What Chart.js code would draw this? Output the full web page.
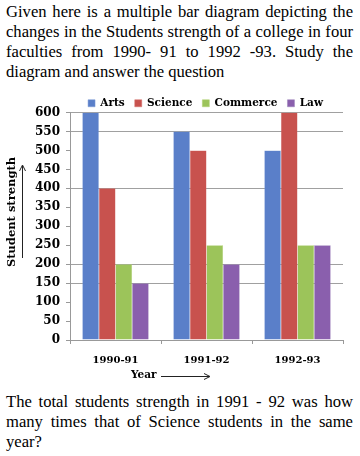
<!DOCTYPE html>
<html>
<head>
<meta charset="utf-8">
<script src="https://cdn.jsdelivr.net/npm/chart.js@4.4.0/dist/chart.umd.min.js"></script>
<style>
  html, body { margin:0; padding:0; background:#fff; width:360px; height:456px; overflow:hidden; }
  .txt { position:absolute; left:6px; width:347px; font-family:"Liberation Serif", serif; font-size:16.6px; line-height:20px; color:#000; }
  .txt div { white-space:nowrap; }
  .txt .j { text-align:justify; text-align-last:justify; }
  #top { top:2px; }
  #bottom { top:392px; }
  #wrap { position:absolute; left:0; top:88px; width:360px; height:302px; }
</style>
</head>
<body>
<div id="top" class="txt">
  <div class="j">Given here is a multiple bar diagram depicting the</div>
  <div class="j">changes in the Students strength of a college in four</div>
  <div class="j">faculties from 1990- 91 to 1992 -93. Study the</div>
  <div>diagram and answer the question</div>
</div>
<div id="wrap"><canvas id="c" width="360" height="302"></canvas></div>
<div id="bottom" class="txt">
  <div class="j">The total students strength in 1991 - 92 was how</div>
  <div class="j">many times that of Science students in the same</div>
  <div>year?</div>
</div>
<script>
const categories = ["1990-91", "1991-92", "1992-93"];
const arts = [600, 550, 500];
const science = [400, 500, 600];
const commerce = [200, 250, 250];
const law = [150, 200, 250];
const yTicks = [0, 50, 100, 150, 200, 250, 300, 350, 400, 450, 500, 550, 600];
const gridValues = [150, 200, 400, 550, 600];

const serif = '"DejaVu Serif", serif';

const legendShift = {
  id: 'legendShift',
  beforeLayout(chart) {
    const lg = chart.legend;
    if (lg && !lg._patched) {
      const f = lg.fit;
      lg.fit = function () { f.call(this); this.height -= 6; };
      lg._patched = true;
    }
  },
  afterLayout(chart) {
    const lg = chart.legend;
    if (lg) { lg.left += 34; lg.right += 34; }
  }
};

const arrowsPlugin = {
  id: 'arrows',
  afterDraw(chart) {
    const ctx = chart.ctx;
    ctx.save();
    ctx.fillStyle = '#000';
    ctx.font = 'bold 11.5px ' + serif;
    ctx.textAlign = 'center';
    ctx.textBaseline = 'middle';
    ctx.translate(12, 124);
    ctx.rotate(-Math.PI / 2);
    ctx.fillText('Student strength', 0, 0);
    ctx.restore();
    ctx.save();
    ctx.strokeStyle = '#222';
    ctx.fillStyle = '#000';
    ctx.lineWidth = 1;
    ctx.beginPath();
    ctx.moveTo(22.5, 170);
    ctx.lineTo(22.5, 78);
    ctx.stroke();
    ctx.beginPath();
    ctx.moveTo(22.5, 77);
    ctx.lineTo(19.5, 83);
    ctx.moveTo(22.5, 77);
    ctx.lineTo(25.5, 83);
    ctx.stroke();
    ctx.font = 'bold 10.5px ' + serif;
    ctx.textAlign = 'left';
    ctx.textBaseline = 'middle';
    ctx.fillText('Year', 131, 287);
    ctx.beginPath();
    ctx.moveTo(161, 288.5);
    ctx.lineTo(209, 288.5);
    ctx.stroke();
    ctx.beginPath();
    ctx.moveTo(210, 288.5);
    ctx.lineTo(204, 285.5);
    ctx.moveTo(210, 288.5);
    ctx.lineTo(204, 291.5);
    ctx.stroke();
    ctx.restore();
  }
};

const mk = (label, data, color, border) => ({
  label, data, backgroundColor: color, borderColor: border, borderWidth: 0.5,
  categoryPercentage: 0.73, barPercentage: 1.0
});

new Chart(document.getElementById('c'), {
  type: 'bar',
  data: {
    labels: categories,
    datasets: [
      mk('Arts', arts, '#5a7fc9', '#7d9ad4'),
      mk('Science', science, '#c8524e', '#d4706c'),
      mk('Commerce', commerce, '#9cc45a', '#b0d070'),
      mk('Law', law, '#8a5fad', '#9a80b8')
    ]
  },
  options: {
    responsive: false,
    animation: false,
    devicePixelRatio: 1,
    layout: { padding: { left: 0, right: 17, top: 0, bottom: 0 } },
    plugins: {
      legend: {
        position: 'top',
        labels: {
          boxWidth: 7, boxHeight: 7, padding: 10,
          color: '#000',
          font: { family: serif, size: 10.5, weight: 'bold' }
        }
      },
      tooltip: { enabled: false }
    },
    scales: {
      x: {
        grid: { display: true, drawOnChartArea: false, offset: true, color: '#999', tickLength: 4 },
        border: { color: '#999' },
        ticks: { color: '#000', padding: 10, font: { family: serif, size: 10, weight: 'bold' } },
        afterFit(s) { s.height = 50; }
      },
      y: {
        min: 0, max: 600,
        afterBuildTicks(s) { s.ticks = yTicks.map(v => ({ value: v })); },
        grid: {
          color: (c) => (c.tick && gridValues.includes(c.tick.value)) ? '#a0a0a0' : 'rgba(0,0,0,0)',
          tickColor: '#999', tickLength: 4
        },
        border: { color: '#999' },
        ticks: { color: '#000', padding: 6, font: { family: serif, size: 12, weight: 'bold' } },
        afterFit(s) { s.width = 70; }
      }
    }
  },
  plugins: [legendShift, arrowsPlugin]
});
</script>
</body>
</html>
